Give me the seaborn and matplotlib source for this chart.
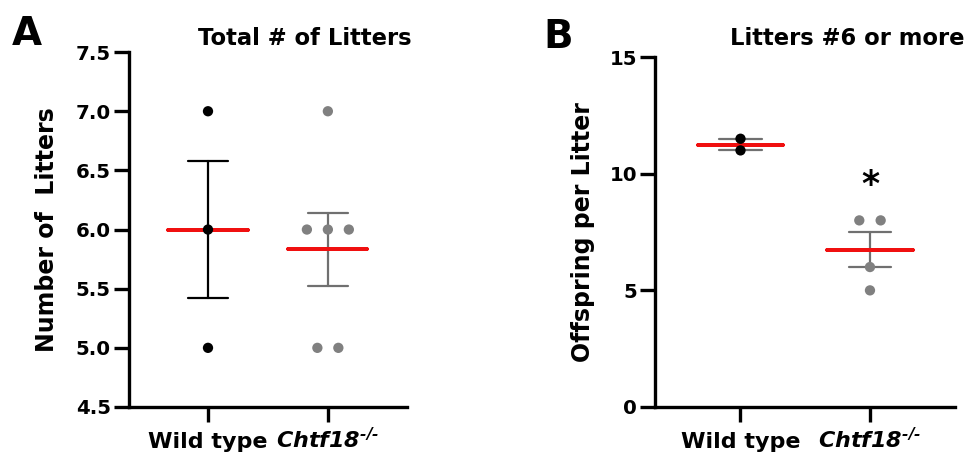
import numpy as np
import pandas as pd
import matplotlib.pyplot as plt
import seaborn as sns

groups = ['Wild type', 'Chtf18']
tick_labels = ['Wild type', r'$\mathit{Chtf18}^{\text{-/-}}$']

# A: total number of litters
litters_wt = [7, 6, 5]
litters_ko = [7, 6, 6, 6, 5, 5]

# B: offspring per litter, litters #6 or more
offspring_wt = [11.5, 11]
offspring_ko = [8, 8, 6, 5]

sns.set_style('ticks')
plt.rcParams['font.family'] = ['DejaVu Sans']
plt.rcParams['font.weight'] = 'bold'
for key in ['text.color', 'axes.labelcolor', 'xtick.color', 'ytick.color', 'axes.edgecolor']:
    plt.rcParams[key] = 'black'
# only the mutant label uses mathtext: keep it all bold italic
plt.rcParams['mathtext.fontset'] = 'custom'
plt.rcParams['mathtext.it'] = 'DejaVu Sans:italic:bold'
plt.rcParams['mathtext.rm'] = 'DejaVu Sans:italic:bold'
plt.rcParams['mathtext.bf'] = 'DejaVu Sans:italic:bold'


def make_df(wt, ko, step):
    df = pd.DataFrame({'group': ['Wild type'] * len(wt) + ['Chtf18'] * len(ko),
                       'value': wt + ko})
    # spread tied values symmetrically around the category centre
    df['pos'] = df['group'].map({g: i for i, g in enumerate(groups)}).astype(float)
    for _, idx in df.groupby(['group', 'value']).groups.items():
        k = len(idx)
        df.loc[idx, 'pos'] += (np.arange(k) - (k - 1) / 2) * step
    return df


def draw_panel(ax, df, bar_colors, dot_colors):
    # mean +/- SEM
    sns.pointplot(data=df, x='group', y='value', hue='group', order=groups,
                  hue_order=groups, palette=bar_colors, errorbar='se',
                  capsize=0.33, markers='', linestyles='none',
                  err_kws={'linewidth': 1.6}, legend=False, ax=ax)
    # red mean line
    sns.pointplot(data=df, x='group', y='value', order=groups, color='#f01010',
                  errorbar=lambda v: (v.mean(), v.mean()), capsize=0.66,
                  markers='', linestyles='none', err_kws={'linewidth': 2.6},
                  ax=ax)
    sns.scatterplot(data=df, x='pos', y='value', hue='group', palette=dot_colors,
                    s=55, linewidth=0, legend=False, zorder=3, ax=ax)
    ax.set_xlim(-0.66, 1.66)
    ax.set_xticks([0, 1])
    ax.set_xticklabels(tick_labels)
    ax.set_xlabel('')
    sns.despine(ax=ax)
    for s in ['left', 'bottom']:
        ax.spines[s].set_linewidth(2.4)
    ax.tick_params(axis='both', width=2.4, length=11, color='black')
    ax.tick_params(axis='y', labelsize=14.2, pad=2)
    ax.tick_params(axis='x', labelsize=16, pad=18.5)
    for lbl in ax.get_xticklabels():
        lbl.set_va('baseline')


fig = plt.figure(figsize=(9.69, 4.55), dpi=100)
ax1 = fig.add_axes([0.133, 0.1055, 0.287, 0.780])
ax2 = fig.add_axes([0.676, 0.1055, 0.310, 0.769])

df_a = make_df(litters_wt, litters_ko, 0.175)
draw_panel(ax1, df_a, {'Wild type': 'black', 'Chtf18': '#707070'},
           {'Wild type': 'black', 'Chtf18': '#808080'})
ax1.set_ylim(4.5, 7.5)
ax1.set_yticks(np.arange(4.5, 7.51, 0.5))
ax1.set_yticklabels([f'{t:.1f}' for t in np.arange(4.5, 7.51, 0.5)])
ax1.set_ylabel('Number of  Litters', fontsize=17, fontweight='bold', labelpad=12)

df_b = make_df(offspring_wt, offspring_ko, 0.165)
draw_panel(ax2, df_b, {'Wild type': '#707070', 'Chtf18': '#707070'},
           {'Wild type': 'black', 'Chtf18': '#808080'})
ax2.set_ylim(0, 15)
ax2.set_yticks([0, 5, 10, 15])
ax2.set_ylabel('Offspring per Litter', fontsize=17, fontweight='bold', labelpad=10)
ax2.text(1, 9.1, '*', ha='center', va='baseline', fontsize=25, fontweight='bold')

fig.text(305 / 969, 1 - 45 / 455, 'Total # of Litters', ha='center', va='baseline',
         fontsize=16.3, fontweight='bold')
fig.text(847 / 969, 1 - 45 / 455, 'Litters #6 or more', ha='center', va='baseline',
         fontsize=16.3, fontweight='bold')
fig.text(12 / 969, 1 - 45 / 455, 'A', ha='left', va='baseline', fontsize=28, fontweight='bold')
fig.text(543 / 969, 1 - 48 / 455, 'B', ha='left', va='baseline', fontsize=28, fontweight='bold')

fig.savefig('out.png', dpi=100)
